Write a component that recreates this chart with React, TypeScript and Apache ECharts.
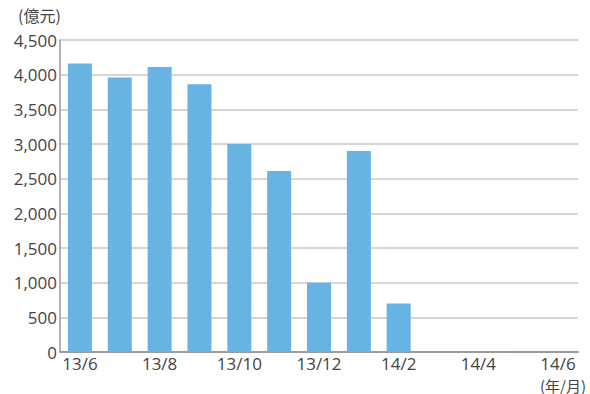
import React, { useEffect, useRef } from "react";
import * as echarts from "echarts";

const categories = ["13/6", "13/7", "13/8", "13/9", "13/10", "13/11", "13/12", "14/1", "14/2", "14/3", "14/4", "14/5", "14/6"];
const values: (number | null)[] = [4160, 3960, 4110, 3860, 3000, 2610, 1000, 2900, 700, null, null, null, null];
const yUnit = "(億元)";
const xUnit = "(年/月)";

export default function App() {
  const ref = useRef<HTMLDivElement>(null);
  useEffect(() => {
    const chart = echarts.init(ref.current!, null, { renderer: "svg" });
    chart.setOption({
      animation: false,
      grid: { left: 60, right: 12, top: 40, bottom: 42 },
      graphic: [
        { type: "text", left: 18, top: 7, style: { text: yUnit, fontSize: 16, fill: "#444", fontFamily: "Noto Sans CJK JP" } },
        { type: "text", right: 4, top: 377, style: { text: xUnit, fontSize: 15, lineHeight: 16, fill: "#444", fontFamily: "Noto Sans CJK JP" } },
      ],
      xAxis: {
        type: "category",
        data: categories,
        axisLine: { show: true, lineStyle: { color: "#888", width: 1.5 } },
        axisTick: { show: false },
        axisLabel: { interval: 1, color: "#444", fontSize: 17, lineHeight: 17, margin: 3, fontFamily: "Open Sans" },
      },
      yAxis: {
        type: "value",
        min: 0,
        max: 4500,
        interval: 500,
        axisLine: { show: true, lineStyle: { color: "#999", width: 1.5 } },
        axisTick: { show: false },
        splitLine: { lineStyle: { color: "#c8c8c8", width: 1.5 } },
        axisLabel: {
          color: "#444",
          fontSize: 17,
          margin: 3,
          fontFamily: "Open Sans",
          formatter: (v: number) => v.toLocaleString("en-US"),
        },
      },
      series: [
        {
          type: "bar",
          data: values,
          barWidth: 24,
          itemStyle: { color: "#67b3e3" },
        },
      ],
    });
    return () => chart.dispose();
  }, []);
  return <div ref={ref} style={{ width: 590, height: 394, position: "absolute", left: 0, top: 0 }} />;
}
